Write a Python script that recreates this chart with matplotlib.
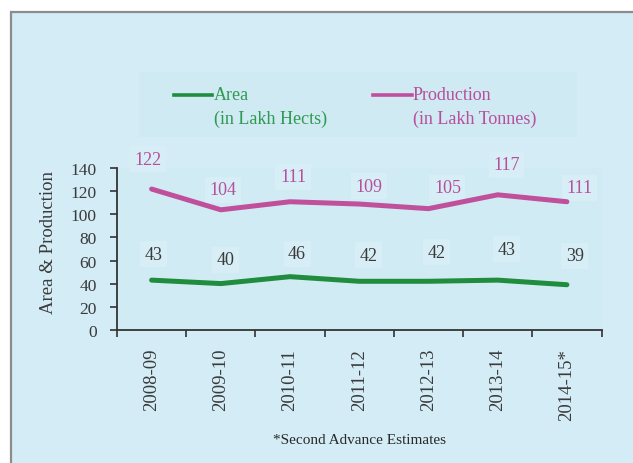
import matplotlib
matplotlib.use('Agg')
import matplotlib.pyplot as plt
from matplotlib.patches import Rectangle
from matplotlib.lines import Line2D

plt.rcParams['font.family'] = ['Liberation Serif', 'DejaVu Serif']

### data
years = ['2008-09', '2009-10', '2010-11', '2011-12', '2012-13', '2013-14', '2014-15*']
area = [43, 40, 46, 42, 42, 43, 39]              # Lakh Hects
production = [122, 104, 111, 109, 105, 117, 111]  # Lakh Tonnes

### label nudges (pixels) - the labels in the original were moved by hand
prod_dx = [-4, 2, 3, 10, 19, 9, 13]
prod_dy = [30, 20, 25, 18, 21, 30, 14]
area_dx = [2, 5, 7, 9, 8, 9, 8]
area_dy = [26, 24, 23, 26, 29, 31, 29]

BG = '#d3ecf5'
GREEN = '#1f8d3d'
PINK = '#c0509b'
PINK_TXT = '#b64f9c'
GREY_TXT = '#3a3a3a'

fig = plt.figure(figsize=(6.33, 4.64), dpi=100)
fig.patch.set_facecolor('white')

# blue panel with grey frame (right / bottom run off the picture)
fig.add_artist(Rectangle((11 / 633, -0.05), 1.2, 1 - 13 / 464 + 0.05,
                         transform=fig.transFigure, facecolor=BG,
                         edgecolor='#8c8c8c', linewidth=1.6, zorder=0))

# legend box
fig.add_artist(Rectangle((139 / 633, 1 - 138 / 464), 438 / 633, 65 / 464,
                         transform=fig.transFigure, facecolor='#d0eaf3',
                         edgecolor='none', zorder=1))

ax = fig.add_axes([117 / 633, 1 - 330.7 / 464, 484.5 / 633, 161.4 / 464])
ax.set_facecolor('#d1ebf4')

x = list(range(len(years)))
ax.plot(x, production, color=PINK, linewidth=3.6, solid_capstyle='round',
        solid_joinstyle='round', zorder=3)
ax.plot(x, area, color=GREEN, linewidth=3.6, solid_capstyle='round',
        solid_joinstyle='round', zorder=3)

box = dict(boxstyle='square,pad=0.25', facecolor='#d7eef6', edgecolor='none')
for i, v in enumerate(production):
    ax.annotate(str(v), (i, v), xytext=(prod_dx[i], prod_dy[i]),
                textcoords='offset pixels', ha='center', va='center',
                fontsize=13, color=PINK_TXT, bbox=box, annotation_clip=False,
                zorder=2)
for i, v in enumerate(area):
    ax.annotate(str(v), (i, v), xytext=(area_dx[i], area_dy[i]),
                textcoords='offset pixels', ha='center', va='center',
                fontsize=13, color=GREY_TXT, bbox=box, annotation_clip=False,
                zorder=2)

ax.set_xlim(-0.5, len(years) - 0.5)
ax.set_ylim(0, 140)
ax.set_yticks(range(0, 141, 20))
ax.set_xticks(x)
ax.set_xticklabels(years, rotation=90, va='top', ha='center')
ax.set_xticks([i - 0.5 for i in range(len(years) + 1)], minor=True)

ax.tick_params(axis='y', direction='out', length=5, width=1.2, color='#333333',
               labelsize=12.5, labelcolor=GREY_TXT, pad=9.5)
ax.tick_params(axis='x', which='major', length=0, labelsize=13.5,
               labelcolor=GREY_TXT, pad=13)
ax.tick_params(axis='x', which='minor', direction='out', length=5, width=1.2,
               color='#333333')

for side in ['top', 'right']:
    ax.spines[side].set_visible(False)
for side in ['left', 'bottom']:
    ax.spines[side].set_color('#333333')
    ax.spines[side].set_linewidth(1.3)

ax.set_ylabel('Area & Production', fontsize=13.5, color=GREY_TXT)
ax.yaxis.set_label_coords(-0.124, 0.545)

### legend drawn by hand so the line sits on the first text row
def legend_item(x0, x1, xt, color, txtcolor, line1, line2):
    fig.add_artist(Line2D([x0 / 633, x1 / 633], [1 - 96 / 464, 1 - 96 / 464],
                          transform=fig.transFigure, color=color, linewidth=2.6,
                          zorder=2))
    fig.text(xt / 633, 1 - 96 / 464, line1, ha='left', va='center',
             fontsize=13, color=txtcolor, zorder=2)
    fig.text(xt / 633, 1 - 119 / 464, line2, ha='left', va='center',
             fontsize=13, color=txtcolor, zorder=2)

legend_item(174, 212, 214, GREEN, '#2f9a52', 'Area', '(in Lakh Hects)')
legend_item(373, 412, 413, PINK, PINK_TXT, 'Production', '(in Lakh Tonnes)')

fig.text(359 / 633, 1 - 441 / 464, '*Second Advance Estimates', ha='center',
         va='center', fontsize=11, color='#2a2a2a')

fig.savefig('out.png', dpi=100, facecolor=fig.get_facecolor())
